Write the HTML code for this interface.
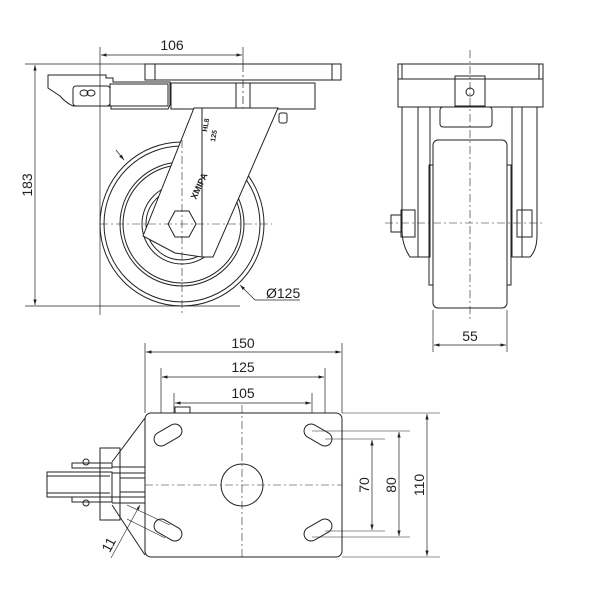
<!DOCTYPE html>
<html><head><meta charset="utf-8"><style>
html,body{margin:0;padding:0;background:#fff;}
svg{display:block;}
text{font-family:"Liberation Sans",sans-serif;fill:#222;}
</style></head><body>
<svg width="600" height="600" viewBox="0 0 600 600" xmlns="http://www.w3.org/2000/svg">
<defs>
<marker id="a" viewBox="0 0 10 6" refX="10" refY="3" markerWidth="8" markerHeight="5" orient="auto-start-reverse"><path d="M0,0L10,3L0,6z" fill="#222"/></marker>
</defs>
<g fill="none" stroke="#222" stroke-width="1">
<!-- ===== SIDE VIEW ===== -->
<line x1="100" y1="47" x2="100" y2="315" stroke-width="0.7"/>
<line x1="243" y1="47" x2="243" y2="64" stroke-width="0.7"/>
<line x1="243" y1="64" x2="243" y2="110" stroke-width="0.7" stroke-dasharray="8,3,2,3"/>
<line x1="101" y1="55" x2="242" y2="55" stroke-width="0.7" marker-start="url(#a)" marker-end="url(#a)"/>
<line x1="25" y1="64" x2="145" y2="64" stroke-width="0.7"/>
<line x1="25" y1="306" x2="240" y2="306" stroke-width="0.7"/>
<line x1="35" y1="65" x2="35" y2="305" stroke-width="0.7" marker-start="url(#a)" marker-end="url(#a)"/>
<rect x="145" y="64" width="196" height="16"/>
<line x1="155" y1="64" x2="155" y2="80"/>
<line x1="332" y1="64" x2="332" y2="80"/>
<rect x="171" y="83" width="144" height="26"/>
<line x1="236" y1="83" x2="236" y2="109"/>
<line x1="250" y1="83" x2="250" y2="109"/>
<line x1="153" y1="80" x2="315" y2="80" stroke-dasharray="2,4"/>
<path d="M48,75 L106,75 L106,78 L113,78 L113,82 L170,82 L170,105 L168,109 L111,109 L111,106 L73,106 Q66,103 60,96 L48,88 Z"/>
<rect x="73" y="86" width="37" height="20" rx="3"/>
<rect x="110" y="84" width="58" height="22"/>
<ellipse cx="84" cy="93" rx="4" ry="3"/><ellipse cx="91" cy="93" rx="4" ry="3"/>
<circle cx="182" cy="224" r="82"/>
<circle cx="182" cy="224" r="78"/>
<circle cx="182" cy="224" r="62"/>
<circle cx="182" cy="224" r="59"/>
<circle cx="182" cy="224" r="40"/>
<circle cx="182" cy="224" r="36"/>
<path d="M194,108 L278,108 L213,257 L202,257 L175,253 L143,236 Z" fill="#fff"/>
<line x1="202" y1="108" x2="202" y2="257"/>
<polygon points="175,211 189,211 196,224 189,237 175,237 168,224" fill="#fff"/>
<rect x="279" y="113" width="8" height="10" rx="2"/>
<line x1="100" y1="224" x2="272" y2="224" stroke-width="0.6" stroke-dasharray="8,3,2,3"/>
<line x1="182" y1="140" x2="182" y2="315" stroke-width="0.6" stroke-dasharray="8,3,2,3"/>
<line x1="116" y1="150" x2="124" y2="160" stroke-width="0.7" marker-end="url(#a)"/>
<polyline points="300,300 255,300 240,285" stroke-width="0.7" marker-end="url(#a)"/>
<!-- ===== FRONT VIEW ===== -->
<rect x="398" y="64" width="145" height="15"/>
<line x1="402" y1="64" x2="402" y2="79"/><line x1="539" y1="64" x2="539" y2="79"/>
<rect x="398" y="79" width="145" height="28"/>
<rect x="455" y="76" width="30" height="30"/>
<circle cx="470" cy="92" r="4"/>
<rect x="440" y="107" width="52" height="20" rx="3"/>
<path d="M402,107 L430,107 L430,257 L410,257 Q402,245 402,230 Z"/>
<line x1="418" y1="107" x2="418" y2="257"/>
<path d="M512,107 L537,107 L537,235 Q537,250 530,257 L512,257 Z"/>
<line x1="522" y1="107" x2="522" y2="257"/>
<rect x="433" y="140" width="74" height="168" rx="5" fill="#fff"/>
<rect x="429" y="165" width="4" height="120"/>
<rect x="507" y="165" width="4" height="120"/>
<rect x="401" y="210" width="14" height="27"/>
<rect x="391" y="215" width="10" height="17"/>
<rect x="517" y="210" width="15" height="27"/>
<line x1="470" y1="50" x2="470" y2="320" stroke-width="0.6" stroke-dasharray="8,3,2,3"/>
<line x1="385" y1="223" x2="545" y2="223" stroke-width="0.6" stroke-dasharray="8,3,2,3"/>
<line x1="433" y1="310" x2="433" y2="352" stroke-width="0.7"/>
<line x1="507" y1="310" x2="507" y2="352" stroke-width="0.7"/>
<line x1="434" y1="345" x2="506" y2="345" stroke-width="0.7" marker-start="url(#a)" marker-end="url(#a)"/>
<!-- ===== TOP VIEW ===== -->
<line x1="145" y1="343" x2="145" y2="413" stroke-width="0.7"/>
<line x1="342" y1="343" x2="342" y2="413" stroke-width="0.7"/>
<line x1="146" y1="352" x2="341" y2="352" stroke-width="0.7" marker-start="url(#a)" marker-end="url(#a)"/>
<line x1="161" y1="368" x2="161" y2="440" stroke-width="0.7"/>
<line x1="325" y1="368" x2="325" y2="440" stroke-width="0.7"/>
<line x1="162" y1="377" x2="324" y2="377" stroke-width="0.7" marker-start="url(#a)" marker-end="url(#a)"/>
<line x1="174" y1="393" x2="174" y2="430" stroke-width="0.7"/>
<line x1="312" y1="393" x2="312" y2="430" stroke-width="0.7"/>
<line x1="175" y1="403" x2="311" y2="403" stroke-width="0.7" marker-start="url(#a)" marker-end="url(#a)"/>
<path d="M175,413 L175,407 L190,407 L190,413"/>
<!-- brake top -->
<rect x="100" y="448" width="20" height="72"/>
<path d="M145,418 L112,462"/>
<path d="M112,505 L145,555"/>
<rect x="72" y="463" width="40" height="5"/>
<rect x="72" y="497" width="40" height="5"/>
<circle cx="86" cy="462" r="3"/><circle cx="86" cy="503" r="3"/>
<rect x="47" y="472" width="65" height="25"/>
<line x1="47" y1="476" x2="110" y2="476"/><line x1="47" y1="493" x2="110" y2="493"/>
<line x1="112" y1="467" x2="145" y2="467"/><line x1="112" y1="473" x2="145" y2="473"/>
<line x1="112" y1="497" x2="145" y2="497"/><line x1="112" y1="503" x2="145" y2="503"/>
<path d="M145,478 L120,478 L120,492 L145,492"/>
<rect x="145" y="413" width="197" height="144" rx="6" fill="#fff"/>
<circle cx="242" cy="485" r="21"/>
<line x1="242" y1="405" x2="242" y2="560" stroke-width="0.6" stroke-dasharray="8,3,2,3"/>
<line x1="145" y1="485" x2="342" y2="485" stroke-width="0.6" stroke-dasharray="8,3,2,3"/>
<rect x="153" y="428" width="30" height="14" rx="7" transform="rotate(-30 168 435)"/>
<rect x="303" y="428" width="30" height="14" rx="7" transform="rotate(30 318 435)"/>
<rect x="153" y="523" width="30" height="14" rx="7" transform="rotate(30 168 530)"/>
<rect x="303" y="523" width="30" height="14" rx="7" transform="rotate(-30 318 530)"/>
<line x1="312" y1="431" x2="410" y2="431" stroke-width="0.6"/>
<line x1="325" y1="439" x2="385" y2="439" stroke-width="0.6"/>
<line x1="325" y1="531" x2="385" y2="531" stroke-width="0.6"/>
<line x1="312" y1="537" x2="410" y2="537" stroke-width="0.6"/>
<line x1="342" y1="413" x2="440" y2="413" stroke-width="0.6"/>
<line x1="342" y1="557" x2="440" y2="557" stroke-width="0.6"/>
<line x1="372" y1="440" x2="372" y2="530" stroke-width="0.7" marker-start="url(#a)" marker-end="url(#a)"/>
<line x1="399" y1="432" x2="399" y2="536" stroke-width="0.7" marker-start="url(#a)" marker-end="url(#a)"/>
<line x1="427" y1="414" x2="427" y2="556" stroke-width="0.7" marker-start="url(#a)" marker-end="url(#a)"/>
<line x1="127" y1="505" x2="170" y2="525" stroke-width="0.6"/>
<line x1="127" y1="519" x2="165" y2="538" stroke-width="0.6"/>
<line x1="111" y1="558" x2="140" y2="505" stroke-width="0.6" marker-end="url(#a)"/>
</g>
<g font-size="14">
<text x="172" y="50" text-anchor="middle">106</text>
<text x="0" y="0" text-anchor="middle" transform="translate(32,185) rotate(-90)">183</text>
<text x="266" y="298">Ø125</text>
<text x="470" y="341" text-anchor="middle">55</text>
<text x="243" y="348" text-anchor="middle">150</text>
<text x="243" y="372" text-anchor="middle">125</text>
<text x="243" y="398" text-anchor="middle">105</text>
<text x="0" y="0" text-anchor="middle" transform="translate(369,485) rotate(-90)">70</text>
<text x="0" y="0" text-anchor="middle" transform="translate(396,485) rotate(-90)">80</text>
<text x="0" y="0" text-anchor="middle" transform="translate(424,485) rotate(-90)">110</text>
<text x="0" y="0" text-anchor="middle" transform="translate(113,547) rotate(-62)">11</text>
</g>
<g font-size="7" font-weight="bold">
<text x="0" y="0" transform="translate(207,132) rotate(-80)">HL8</text>
<text x="0" y="0" transform="translate(215,142) rotate(-80)">125</text>
<text x="0" y="0" transform="translate(196,200) rotate(-65)" font-size="9">XMIPA</text>
</g>
</svg>
</body></html>
